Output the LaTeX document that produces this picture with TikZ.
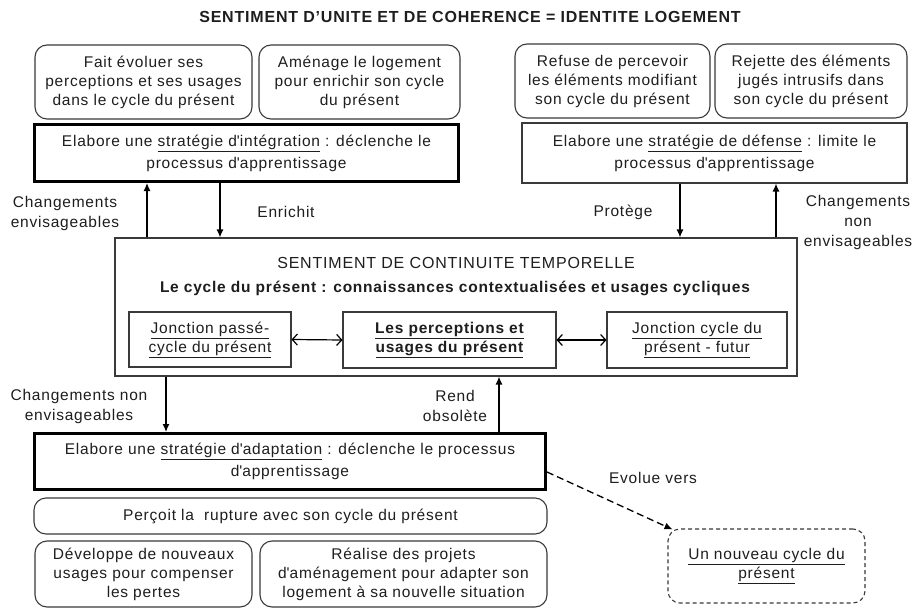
\documentclass[tikz,border=0pt]{standalone}
\usepackage{fontspec}
\setmainfont{Liberation Sans}[LetterSpace=5]
\usetikzlibrary{arrows.meta,calc}
\definecolor{txt}{HTML}{1E1E1E}
\definecolor{lineg}{HTML}{3A3A3A}
\newcommand{\q}{\textquotesingle}
\tikzset{
  base/.style={inner sep=0pt, align=center, text=txt},
  box/.style={base, draw=lineg, line width=1.1pt},
  rbox/.style={box, rounded corners=12pt, font=\fontsize{15.5}{19}\selectfont},
  sbox/.style={box, font=\fontsize{15.5}{22}\selectfont},
  tbox/.style={base, draw=black, line width=3pt, font=\fontsize{15.5}{22}\selectfont},
  ibox/.style={box, font=\fontsize{15.5}{19}\selectfont},
  lbl/.style={base, font=\fontsize{15.5}{20}\selectfont},
  arr/.style={draw=black, line width=1.3pt, -{Latex[length=8pt,width=7pt]}},
  darr/.style={draw=black, line width=1.2pt, {Straight Barb[length=5pt,width=11pt]}-{Straight Barb[length=5pt,width=11pt]}},
}
\begin{document}
\begin{tikzpicture}[x=1pt,y=-1pt]
\useasboundingbox (0,0) rectangle (914,613);
\fill[white] (0,0) rectangle (914,613);

\node[base, font=\fontsize{16}{19}\bfseries] (title) at (470,17) {SENTIMENT D’UNITE ET DE COHERENCE = IDENTITE LOGEMENT};

% top left
\node[rbox, minimum width=217pt, minimum height=74pt] (fe) at (143.5,82) {Fait évoluer ses\\perceptions et ses usages\\dans le cycle du présent};
\node[rbox, minimum width=201pt, minimum height=74pt] (am) at (359.5,82) {Aménage le logement\\pour enrichir son cycle\\du présent};
\node[tbox, minimum width=424pt, minimum height=57pt] (integ) at (246.5,153) {Elabore une \underline{stratégie d\q intégration} : déclenche le\\processus d\q apprentissage};

% top right
\node[rbox, minimum width=195pt, minimum height=74pt] (rf) at (612.5,81) {Refuse de percevoir\\les éléments modifiant\\son cycle du présent};
\node[rbox, minimum width=192pt, minimum height=74pt] (rj) at (811,81) {Rejette des éléments\\jugés intrusifs dans\\son cycle du présent};
\node[sbox, minimum width=385pt, minimum height=60pt] (def) at (714.5,153) {Elabore une \underline{stratégie de défense} : limite le\\processus d\q apprentissage};

% center
\node[box, minimum width=682pt, minimum height=138pt] (center) at (456,307) {};
\node[base, font=\fontsize{16}{19}\selectfont] (ctitle) at (456,263) {SENTIMENT DE CONTINUITE TEMPORELLE};
\node[base, font=\fontsize{15.5}{19}\bfseries] (csub) at (455,288) {Le cycle du présent : connaissances contextualisées et usages cycliques};
\node[ibox, minimum width=162pt, minimum height=55pt] (jl) at (210,339.5) {\underline{Jonction passé-}\\\underline{cycle du présent}};
\node[ibox, minimum width=213pt, minimum height=56pt, font=\fontsize{15.5}{19}\bfseries] (jm) at (449.5,340) {\underline{Les perceptions et}\\\underline{usages du présent}};
\node[ibox, minimum width=180pt, minimum height=56pt] (jr) at (697,340) {\underline{Jonction cycle du}\\\underline{présent - futur}};
\draw[darr] (jl.east) -- (jm.west);
\draw[darr] (jm.east) -- (jr.west);

% bottom
\node[tbox, minimum width=511pt, minimum height=56pt] (adapt) at (290,461.5) {Elabore une \underline{stratégie d\q adaptation} : déclenche le processus\\d\q apprentissage};
\node[rbox, minimum width=513pt, minimum height=36pt] (perc) at (290.5,516) {Perçoit la\ \ rupture avec son cycle du présent};
\node[rbox, minimum width=217pt, minimum height=66pt] (dev) at (143.5,574) {Développe de nouveaux\\usages pour compenser\\les pertes};
\node[rbox, minimum width=287pt, minimum height=66pt] (real) at (403.5,574) {Réalise des projets\\d\q aménagement pour adapter son\\logement à sa nouvelle situation};
\node[rbox, draw=lineg, dashed, dash pattern=on 4pt off 3pt, minimum width=197pt, minimum height=74pt] (nouv) at (766.5,566) {\underline{Un nouveau cycle du}\\\underline{présent}};

% arrow x positions
\coordinate (xa) at (147,0);
\coordinate (xb) at (220,0);
\coordinate (xc) at (680,0);
\coordinate (xd) at (776,0);
\coordinate (xe) at (166,0);
\coordinate (xf) at (499,0);

\draw[arr] (center.north -| xa) -- (integ.south -| xa);
\draw[arr] (integ.south -| xb) -- (center.north -| xb);
\draw[arr] (def.south -| xc) -- (center.north -| xc);
\draw[arr] (center.north -| xd) -- (def.south -| xd);
\draw[arr] (center.south -| xe) -- (adapt.north -| xe);
\draw[arr] (adapt.north -| xf) -- (center.south -| xf);
\draw[arr, dash pattern=on 7pt off 4pt] ([yshift=-10.5pt]adapt.east) -- ([xshift=5pt,yshift=-1pt]nouv.north west);

% labels
\node[lbl] (l1) at (65,213) {Changements\\envisageables};
\node[lbl] (l2) at (286,212) {Enrichit};
\node[lbl] (l3) at (623,212) {Protège};
\node[lbl] (l4) at (858,222) {Changements\\non\\envisageables};
\node[lbl] (l5) at (79,406) {Changements non\\envisageables};
\node[lbl] (l6) at (455,406) {Rend\\obsolète};
\node[lbl] (l7) at (653,478) {Evolue vers};
\end{tikzpicture}
\end{document}
